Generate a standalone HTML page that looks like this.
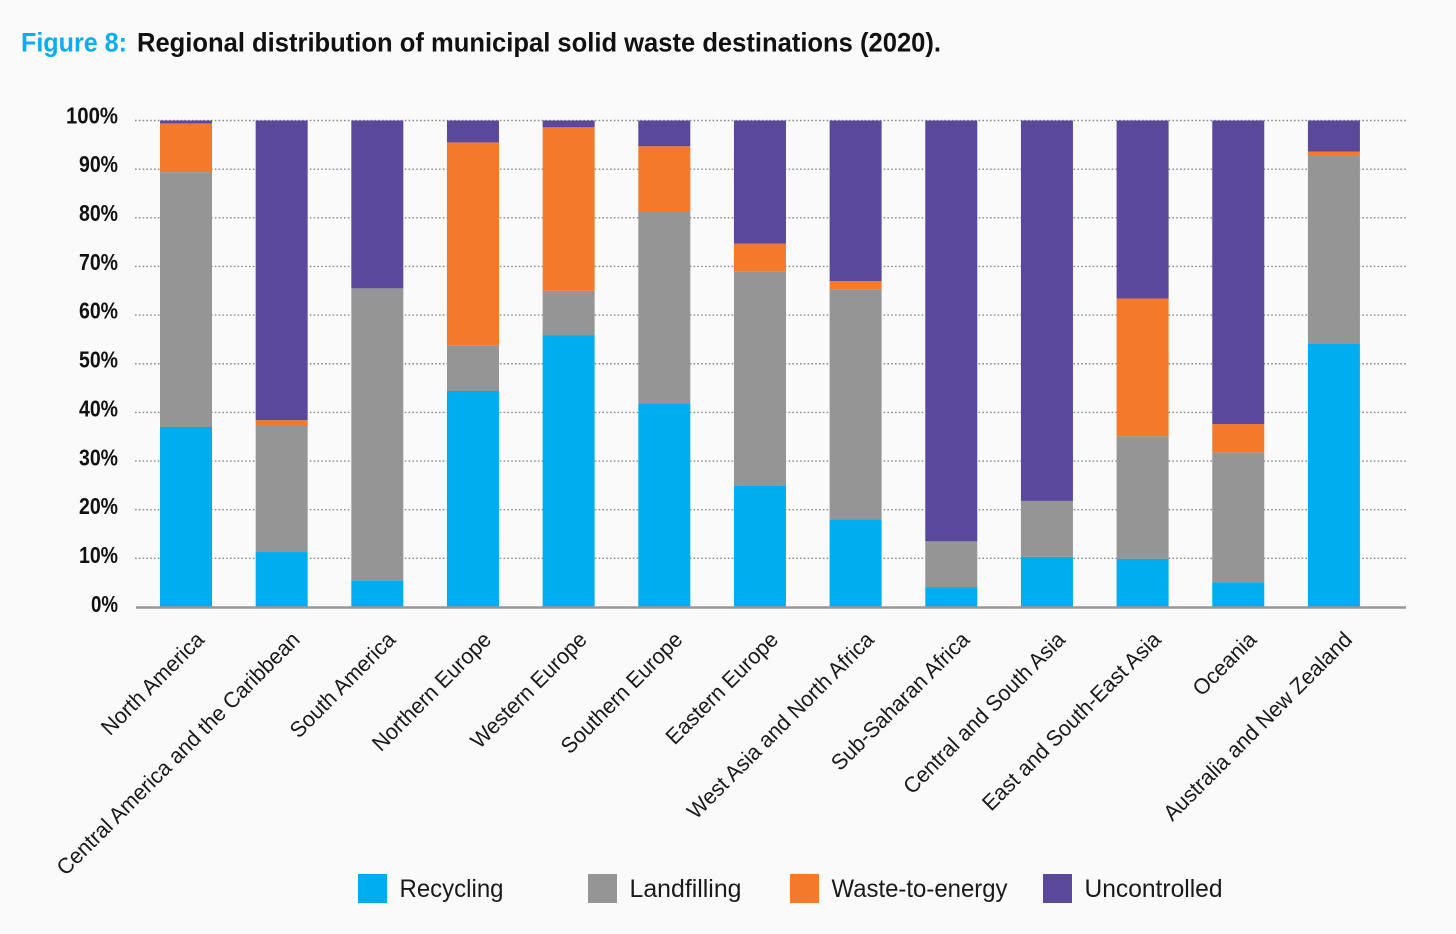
<!DOCTYPE html>
<html lang="en">
<head>
<meta charset="utf-8">
<title>Regional distribution of municipal solid waste destinations (2020)</title>
<style>
html,body{margin:0;padding:0;background:#fafafa;width:1456px;height:934px;overflow:hidden}
svg{display:block;font-family:"Liberation Sans",sans-serif}
</style>
</head>
<body>
<svg id="chart" width="1456" height="934" viewBox="0 0 1456 934" xmlns="http://www.w3.org/2000/svg">
  <rect x="0" y="0" width="1456" height="934" fill="#fafafa"/>
  <text x="21" y="51.5" font-size="27" font-weight="700" fill="#0aaef0" textLength="106" lengthAdjust="spacingAndGlyphs">Figure 8:</text>
  <text x="137" y="51.5" font-size="27" font-weight="700" fill="#111" textLength="804" lengthAdjust="spacingAndGlyphs">Regional distribution of municipal solid waste destinations (2020).</text>
  <g id="grid"></g>
  <g id="yticks"></g>
  <g id="bars"></g>
  <line x1="136" y1="607.5" x2="1406" y2="607.5" stroke="#979797" stroke-width="2.5"/>
  <g id="xticks"></g>
  <g id="legend"></g>
</svg>
<script>
const categories = ["North America","Central America and the Caribbean","South America","Northern Europe","Western Europe","Southern Europe","Eastern Europe","West Asia and North Africa","Sub-Saharan Africa","Central and South Asia","East and South-East Asia","Oceania","Australia and New Zealand"];
const recycling = [37,11.3,5.5,44.4,55.9,41.9,25,18,4.1,10.3,9.9,5.1,54.2];
const landfilling = [52.4,25.9,60,9.4,9.1,39.5,44,47.3,9.4,11.5,25.2,26.7,38.7];
const wasteToEnergy = [10,1.2,0,41.7,33.6,13.3,5.7,1.7,0,0,28.3,5.8,0.7];
const uncontrolled = [0.6,61.6,34.5,4.5,1.4,5.3,25.3,33,86.5,78.2,36.6,62.4,6.4];
const yTicks = [0,10,20,30,40,50,60,70,80,90,100];
const seriesNames = ["Recycling","Landfilling","Waste-to-energy","Uncontrolled"];
const seriesValues = [recycling,landfilling,wasteToEnergy,uncontrolled];
const seriesColors = ["#00aeef","#959595","#f5792a","#59489c"];

const NS = "http://www.w3.org/2000/svg";
function yScale(v){ return 607 - v * 4.865; }
function xCenter(i){ return 186 + i * 95.66; }
const barWidth = 52;
function make(tag, attrs, parent, text){
  const el = document.createElementNS(NS, tag);
  for (const k in attrs) el.setAttribute(k, attrs[k]);
  if (text !== undefined) el.textContent = text;
  parent.appendChild(el);
  return el;
}

const grid = document.getElementById("grid");
const yLabels = document.getElementById("yticks");
yTicks.forEach(function(t){
  if (t > 0) {
    const line = make("line", {x1:135, x2:1408, y1:yScale(t), y2:yScale(t), stroke:"#8a8a8a", "stroke-width":1.4, "stroke-dasharray":"1.6 2.2"}, grid);
    
    
  }
  const label = make("text", {x:118, y:yScale(t)+4.8-t*0.02, "text-anchor":"end", "font-size":23.5, "font-weight":700, fill:"#111", textLength: t===100?52:(t===0?27:39), lengthAdjust:"spacingAndGlyphs"}, yLabels, t+"%");
  
  
});

const bars = document.getElementById("bars");
categories.forEach(function(c,i){
  let base = 0;
  seriesValues.forEach(function(values,s){
    const v = values[i];
    if (v > 0) {
      const top = yScale(base + v), bottom = yScale(base);
      const seg = make("rect", {x:xCenter(i)-barWidth/2, y:top, width:barWidth, height:bottom-top, fill:seriesColors[s]}, bars);
      
      
    }
    base += v;
  });
});

const xLabels = document.getElementById("xticks");
categories.forEach(function(c,i){
  const x = xCenter(i) + 19.5, y = 641;
  const label = make("text", {x:0, y:0, "text-anchor":"end", "font-size":22, fill:"#1a1a1a", transform:"translate("+x+" "+y+") rotate(-45) scale(0.97 1)"}, xLabels, c);
  
  
});

const legend = document.getElementById("legend");
const legendSwatchX = [358,588,790,1043];
const legendTextWidths = [104,112,176,138];
seriesNames.forEach(function(n,s){
  const swatch = make("rect", {x:legendSwatchX[s], y:874, width:29, height:29, fill:seriesColors[s]}, legend);
  
  
  const label = make("text", {x:legendSwatchX[s]+41.5, y:897, "font-size":25, fill:"#1a1a1a", textLength:legendTextWidths[s], lengthAdjust:"spacingAndGlyphs"}, legend, n);
  
  
});
</script>
</body>
</html>
